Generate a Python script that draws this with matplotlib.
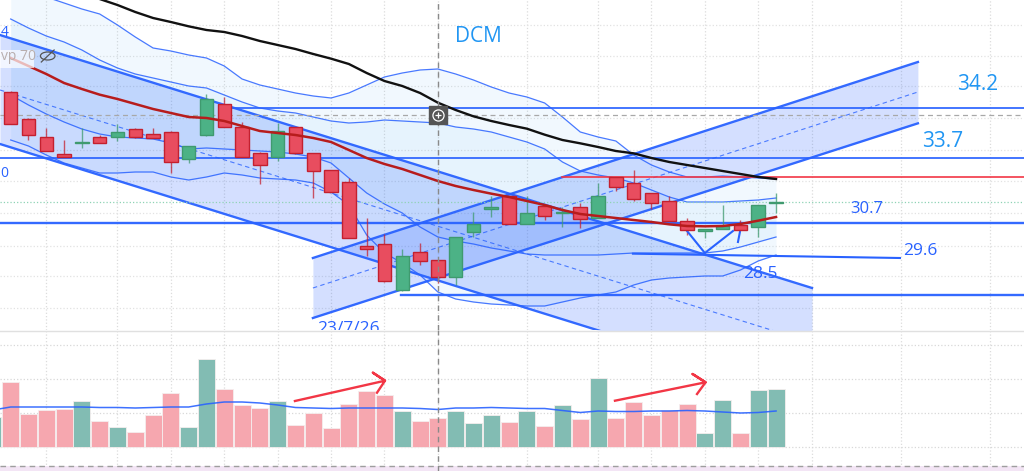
import matplotlib
matplotlib.use('Agg')
import matplotlib.pyplot as plt
from matplotlib.patches import Ellipse

plt.rcParams['font.family'] = ['Open Sans', 'DejaVu Sans']

# candles, bar 0 to 43
opens = [34.62, 33.82, 33.29, 32.76, 33.11, 33.29, 33.29, 33.51, 33.37, 33.42, 32.62,
         33.35, 34.26, 33.59, 32.79, 32.67, 33.59, 32.79, 32.28, 31.94, 30.01, 30.06,
         28.69, 29.82, 29.58, 29.07, 30.44, 31.13, 31.51, 30.67, 31.22, 31.00, 31.19,
         30.84, 32.09, 31.89, 31.59, 31.35, 30.75, 30.47, 30.52, 30.64, 30.59, 31.29]
closes = [33.66, 33.35, 32.85, 32.69, 33.13, 33.11, 33.42, 33.29, 33.24, 32.52, 33.00,
          34.41, 33.57, 32.67, 32.43, 33.47, 32.79, 32.27, 31.62, 30.24, 29.92, 28.97,
          29.71, 29.57, 29.07, 30.29, 30.66, 31.19, 30.67, 30.99, 30.91, 31.03, 30.82,
          31.51, 31.77, 31.42, 31.29, 30.76, 30.48, 30.52, 30.62, 30.48, 31.23, 31.32]
highs = [34.66, 33.84, 33.55, 33.19, 33.54, 33.34, 33.66, 33.54, 33.54, 33.46, 33.00,
         34.57, 34.49, 33.74, 32.84, 33.71, 33.59, 32.79, 32.28, 32.05, 30.84, 30.37,
         29.91, 30.09, 29.58, 30.29, 31.04, 31.51, 31.51, 31.51, 31.22, 31.19, 31.30,
         31.91, 32.09, 32.29, 31.59, 31.51, 30.84, 30.52, 31.23, 30.79, 31.23, 31.59]
lows = [33.66, 33.19, 32.85, 32.69, 32.94, 33.11, 33.17, 33.26, 33.24, 32.19, 32.49,
        33.31, 33.57, 32.67, 31.87, 32.57, 32.77, 31.44, 31.62, 30.24, 29.71, 28.94,
        28.67, 29.44, 28.91, 28.84, 30.29, 30.89, 30.67, 30.67, 30.79, 30.59, 30.54,
        30.84, 31.67, 31.37, 31.12, 30.76, 30.34, 30.26, 30.52, 30.48, 30.29, 31.01]

# moving averages
red_ma = [35.65, 35.41, 35.17, 34.90, 34.72, 34.55, 34.42, 34.27, 34.12, 34.00, 33.88,
          33.85, 33.76, 33.61, 33.46, 33.40, 33.34, 33.25, 33.13, 32.89, 32.65, 32.47,
          32.32, 32.14, 31.96, 31.81, 31.69, 31.58, 31.48, 31.36, 31.24, 31.09, 30.97,
          30.91, 30.85, 30.79, 30.73, 30.66, 30.61, 30.60, 30.61, 30.67, 30.77, 30.88]
black_start = 5
black_ma = [37.42, 37.24, 37.03, 36.85, 36.73, 36.60, 36.49, 36.43, 36.31, 36.16, 36.04,
            35.92, 35.77, 35.63, 35.47, 35.20, 34.96, 34.81, 34.60, 34.31, 34.09, 33.90,
            33.76, 33.64, 33.53, 33.35, 33.19, 33.09, 32.98, 32.86, 32.79, 32.65, 32.53,
            32.44, 32.35, 32.26, 32.17, 32.08, 32.02]

# bands, outer top to outer bottom
band_a = [38.29, 37.99, 37.48, 37.30, 37.12, 36.97, 36.64, 36.28, 35.95, 35.86, 35.74,
          35.65, 35.41, 35.02, 34.84, 34.72, 34.60, 34.51, 34.45, 34.60, 34.84, 35.08,
          35.20, 35.29, 35.32, 35.17, 34.99, 34.78, 34.60, 34.48, 34.30, 33.88, 33.43,
          33.28, 33.16, 32.74, 32.44, 32.23, 32.08, 32.08, 32.11, 32.08, 32.05, 32.02]
band_b = [36.82, 36.55, 36.31, 36.13, 35.89, 35.59, 35.35, 35.17, 35.05, 34.93, 34.81,
          34.75, 34.54, 34.33, 34.15, 34.06, 34.00, 33.88, 33.76, 33.70, 33.73, 33.79,
          33.76, 33.73, 33.70, 33.58, 33.52, 33.43, 33.28, 33.13, 32.92, 32.53, 32.26,
          32.14, 32.05, 31.90, 31.69, 31.48, 31.33, 31.33, 31.33, 31.36, 31.39, 31.45]
band_c = [34.54, 34.24, 33.97, 33.73, 33.52, 33.37, 33.28, 33.25, 33.22, 33.10, 32.92,
          32.95, 32.92, 32.89, 32.86, 32.83, 32.77, 32.68, 32.50, 32.05, 31.60, 31.27,
          31.00, 30.58, 30.28, 30.16, 30.07, 29.95, 29.86, 29.77, 29.74, 29.74, 29.74,
          29.74, 29.77, 29.80, 29.80, 29.80, 29.80, 29.80, 29.86, 29.98, 30.13, 30.28]
band_d = [33.19, 33.01, 32.74, 32.50, 32.35, 32.20, 32.20, 32.23, 32.23, 32.08, 31.99,
          32.08, 32.20, 32.14, 32.05, 32.02, 31.99, 31.90, 31.63, 31.24, 30.34, 29.80,
          29.50, 29.14, 28.63, 28.42, 28.33, 28.27, 28.24, 28.21, 28.21, 28.33, 28.45,
          28.54, 28.63, 28.84, 28.99, 29.05, 29.08, 29.11, 29.11, 29.29, 29.56, 29.74]

# volume, first value is the cut off bar left of bar 0
volumes = [30, 65, 33, 37, 37.7, 46, 25.7, 20, 15, 31.7, 54, 20, 87.7, 57.7, 42, 39, 45.7,
           22, 34, 19, 42.7, 55.7, 52, 35.7, 25.7, 29, 36, 23.7, 31.7, 25, 35.7, 21.3, 42,
           27.7, 68.7, 29, 45, 31.7, 37, 42.7, 14.3, 47, 13.7, 57, 57.7]
vol_ma = [37, 40, 40, 40, 40, 40, 39.5, 39.5, 39, 39.5, 40, 40, 43, 45, 45, 44, 42, 39.5,
          39, 38.5, 39, 39, 39, 39, 38.5, 37.5, 39, 39, 39.5, 39, 38.5, 38.5, 36.5, 34.5,
          36, 35.5, 35.5, 36, 36, 36.5, 36, 35, 34, 34.5, 36]

# drawn channels: start bar, end bar, prices at both ends
down_x = [-0.6, 45.02]
down_top = [36.34, 28.75]
down_mid = [34.69, 27.11]
down_bot = [33.07, 25.48]
up_x = [16.98, 50.97]
up_top = [29.65, 35.53]
up_mid = [28.75, 34.63]
up_bot = [27.85, 33.69]

# drawn levels: price, start bar
level_prices = [34.15, 32.65, 30.70, 28.54]
level_starts = [12.5, -1, -1, 21.93]
level_widths = [1.3, 1.3, 1.7, 1.7]
red_level = 32.09
red_level_start = 30.97
slant_x = [34.96, 49.96]
slant_y = [29.78, 29.65]
vee_x = [38.0, 39.0, 40.58]
vee_y = [30.46, 29.80, 30.46]
tick_x = [40.86, 40.97]
tick_y = [30.13, 30.43]

grid_bars = [2, 6, 9, 12, 15, 18, 21, 24, 29, 33, 36, 39, 42, 45, 50, 55]
grid_prices = [36.64, 35.7, 34.8, 33.85, 32.9, 31.95, 31.0, 30.0, 29.1, 28.15]
cross_bar = 24
cross_price = 33.94
last_price = 31.33

arrow1_x = [15.97, 21.03, 20.35, 21.03, 20.58]
arrow1_y = [46, 66.3, 74.3, 66.3, 54.3]
arrow2_x = [33.95, 39.04, 38.31, 39.04, 38.56]
arrow2_y = [46.3, 64.7, 73, 64.7, 53]

BLUE = '#2962ff'
RED_F, RED_E = '#e84d5f', '#c4202f'
GREEN_F, GREEN_E = '#4cb286', '#3f9a6f'
x_min, x_max = -0.6, 56.93

fig = plt.figure(figsize=(10.24, 4.71), dpi=100)
ax = fig.add_axes([0, 1 - 330 / 471, 1, 330 / 471])
vax = fig.add_axes([0, 0, 1, 141 / 471])
ax.set_xlim(x_min, x_max)
ax.set_ylim(27.49, 37.39)
vax.set_xlim(x_min, x_max)
vax.set_ylim(-24, 117)
for a in (ax, vax):
    a.axis('off')
    for b in grid_bars:
        a.axvline(b, color='#dcdcdc', lw=0.9, ls=':', zorder=0)
    a.axvline(cross_bar, color='#8a8a8a', lw=1, ls=(0, (4, 3)), zorder=9)
for p in grid_prices:
    ax.axhline(p, color='#e2e2e2', lw=0.9, ls=':', zorder=0)
for v in [0, 34.5, 68.5, 102.5]:
    vax.axhline(v, color='#d8d8d8', lw=0.9, ls=':', zorder=0)

bars = list(range(44))

# bands
ax.fill_between(bars, band_a, band_d, color='#2196f3', alpha=0.06, lw=0, zorder=1)
ax.fill_between(bars, band_b, band_c, color='#2196f3', alpha=0.05, lw=0, zorder=1)
for band in (band_a, band_b, band_c, band_d):
    ax.plot(bars, band, color=BLUE, lw=0.9, alpha=0.85, zorder=3)

# channels
ax.fill_between(down_x, down_top, down_bot, color=BLUE, alpha=0.2, lw=0, zorder=2)
ax.fill_between(up_x, up_top, up_bot, color=BLUE, alpha=0.2, lw=0, zorder=2)
for xs, top, mid, bot in [(down_x, down_top, down_mid, down_bot), (up_x, up_top, up_mid, up_bot)]:
    ax.plot(xs, top, color=BLUE, lw=1.7, alpha=0.95, zorder=3)
    ax.plot(xs, bot, color=BLUE, lw=1.7, alpha=0.95, zorder=3)
    ax.plot(xs, mid, color=BLUE, lw=0.8, ls=(0, (4, 3)), alpha=0.8, zorder=3)

# levels
for p, s, w in zip(level_prices, level_starts, level_widths):
    ax.plot([s, x_max], [p, p], color=BLUE, lw=w, alpha=0.95, zorder=3)
ax.plot([red_level_start, x_max], [red_level, red_level], color='#f23645', lw=1.2, zorder=3)
ax.plot(slant_x, slant_y, color=BLUE, lw=1.5, zorder=3)
ax.plot(vee_x, vee_y, color=BLUE, lw=1.5, zorder=5)
ax.plot(tick_x, tick_y, color=BLUE, lw=1.5, zorder=5)
ax.axhline(cross_price, color='#a8a8a8', lw=0.9, ls=(0, (4, 3)), zorder=3)
ax.axhline(last_price, color='#8fd3b5', lw=0.9, ls=':', zorder=3)

# candles
for i in bars:
    up = closes[i] >= opens[i]
    face, edge = (GREEN_F, GREEN_E) if up else (RED_F, RED_E)
    ax.vlines(i, lows[i], highs[i], color=edge, lw=1, alpha=0.75, zorder=4)
    ax.bar(i, abs(closes[i] - opens[i]), 0.76, bottom=min(opens[i], closes[i]),
           facecolor=face, edgecolor=edge, lw=1, zorder=5)

ax.plot(bars, red_ma, color='#b71c1c', lw=1.8, zorder=6)
ax.plot(range(black_start, 44), black_ma, color='#111111', lw=1.7, zorder=6)

# crosshair button
ax.plot(cross_bar, cross_price, marker='s', ms=13, color='#555555', zorder=10)
ax.plot(cross_bar, cross_price, marker='o', ms=8, mfc='none', mec='white', mew=0.9, zorder=11)
ax.plot(cross_bar, cross_price, marker='+', ms=5, color='white', mew=0.9, zorder=11)

# faint legend remains
ax.fill_between([x_min, 1.3], 35.35, 35.89, color='white', alpha=0.7, lw=0, zorder=7)
ax.text(x_min + 0.03, 35.7, 'vp 70', color='#b8aeae', fontsize=10, ha='left', va='center', zorder=8)
ax.add_patch(Ellipse((2.08, 35.71), 0.82, 0.24, fill=False, ec='#555555', lw=0.9, zorder=8))
ax.plot([1.72, 2.44], [35.53, 35.89], color='#555555', lw=0.9, zorder=8)
ax.text(x_min + 0.03, 36.42, '4', color=BLUE, fontsize=10, va='center', zorder=8)
ax.text(x_min + 0.03, 32.19, '0', color=BLUE, fontsize=10, va='center', zorder=8)

# volume
colours = ['#82bcb3']
for i in bars:
    colours.append('#82bcb3' if closes[i] >= opens[i] else '#f6a7af')
vax.bar(range(-1, 44), volumes, 0.95, color=colours, edgecolor='#f5eeee', lw=0.6, zorder=2)
vax.plot(range(-1, 44), vol_ma, color=BLUE, lw=1.1, alpha=0.9, zorder=3)
vax.plot(arrow1_x, arrow1_y, color='#f23645', lw=1.7, zorder=4)
vax.plot(arrow2_x, arrow2_y, color='#f23645', lw=1.7, zorder=4)
vax.axhline(116.5, color='#e0e0e0', lw=1)
vax.axhspan(-24, -19, color='#f3e5f5', lw=0, zorder=1)
vax.axhline(-19, color='#9e9e9e', lw=1, ls=(0, (4, 3)), zorder=2)

# hand written labels
light = '#2196f3'
ax.text(26.3, 36.3, 'DCM', color=light, fontsize=15, ha='center', va='center', zorder=12)
ax.text(54.35, 34.84, '34.2', color=light, fontsize=15, ha='center', va='center', zorder=12)
ax.text(52.35, 33.16, '33.7', color=light, fontsize=15, ha='center', va='center', zorder=12)
ax.text(48.1, 31.12, '30.7', color=BLUE, fontsize=12, ha='center', va='center', zorder=12)
ax.text(51.1, 29.86, '29.6', color=BLUE, fontsize=12.5, ha='center', va='center', zorder=12)
ax.text(42.1, 29.17, '28.5', color=BLUE, fontsize=12.5, ha='center', va='center', zorder=12)
ax.text(19, 27.4, '23/7/26', color=BLUE, fontsize=12.5, ha='center', va='baseline', clip_on=True, zorder=12)

fig.savefig('out.png', dpi=100)
